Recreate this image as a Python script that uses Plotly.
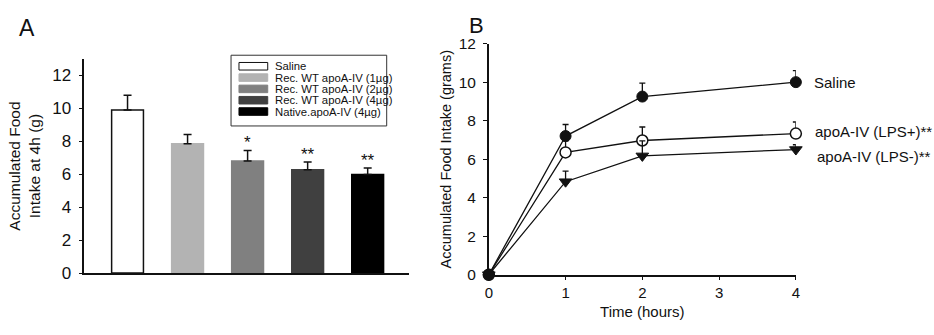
import plotly.graph_objects as go

# ---------------- Data ----------------
# Panel A
groups = ["Saline", "Rec. WT apoA-IV (1µg)", "Rec. WT apoA-IV (2µg)",
          "Rec. WT apoA-IV (4µg)", "Native.apoA-IV (4µg)"]
intake_4h = [9.9, 7.85, 6.8, 6.27, 5.98]
intake_4h_err = [0.9, 0.57, 0.65, 0.47, 0.4]
signif_a = ["", "", "*", "**", "**"]
bar_colors = ["#ffffff", "#b3b3b3", "#808080", "#404040", "#000000"]

# Panel B
time_h = [0, 1, 2, 4]
saline_b = [0, 7.2, 9.25, 10.0]
saline_b_err = [0, 0.6, 0.7, 0.6]
lps_pos_b = [0, 6.35, 6.97, 7.33]
lps_pos_b_err = [0, 0.6, 0.7, 0.6]
lps_neg_b = [0, 4.83, 6.17, 6.5]
lps_neg_b_err = [0, 0.55, 0.78, 0.25]
series_b_names = ["apoA-IV (LPS+)**", "apoA-IV (LPS-)**", "Saline"]

W, H = 934, 335
FONT = "Liberation Sans, Arial, sans-serif"
TXT = "#111111"


def px(x):
    return x / W


def py(y):
    return 1 - y / H


fig = go.Figure()

# ---------------- Panel A bars ----------------
for i, (g, v, e, c) in enumerate(zip(groups, intake_4h, intake_4h_err, bar_colors)):
    fig.add_trace(go.Bar(
        x=[i], y=[v], width=0.53, name=g, showlegend=False,
        marker=dict(color=c, line=dict(color="#111111" if i == 0 else c, width=1.5)),
        error_y=dict(type="data", symmetric=False, array=[e], arrayminus=[0],
                     color="#111111", thickness=1.5, width=4),
        xaxis="x", yaxis="y",
    ))

for i, s in enumerate(signif_a):
    if s:
        fig.add_annotation(x=i, y=intake_4h[i] + intake_4h_err[i], xref="x", yref="y",
                           text=s, showarrow=False, yanchor="bottom", yshift=-4,
                           font=dict(family=FONT, size=17, color=TXT))

# ---------------- Panel B lines ----------------
b_series = [
    (lps_pos_b, lps_pos_b_err, dict(symbol="circle", size=11, color="#ffffff",
                                    line=dict(color="#111111", width=1.5))),
    (lps_neg_b, lps_neg_b_err, dict(symbol="triangle-down", size=11, color="#111111",
                                    line=dict(color="#111111", width=1))),
    (saline_b, saline_b_err, dict(symbol="circle", size=11, color="#111111",
                                  line=dict(color="#111111", width=1))),
]
for name, (vals, errs, mk) in zip(series_b_names, b_series):
    fig.add_trace(go.Scatter(
        x=time_h, y=vals, name=name, mode="lines+markers", showlegend=False,
        line=dict(color="#111111", width=1.3), marker=mk, cliponaxis=False,
        error_y=dict(type="data", symmetric=False, array=errs, arrayminus=[0] * len(errs),
                     color="#111111", thickness=1.3, width=3),
        xaxis="x2", yaxis="y2",
    ))

label_shift = {"Saline": (16, 0), "apoA-IV (LPS+)**": (17, 2), "apoA-IV (LPS-)**": (19, -7)}
for name, (vals, _, _) in zip(series_b_names, b_series):
    xs, ys = label_shift[name]
    fig.add_annotation(x=time_h[-1], y=vals[-1], xref="x2", yref="y2", text=name,
                       showarrow=False, xanchor="left", yanchor="middle",
                       xshift=xs, yshift=ys, font=dict(family=FONT, size=15, color=TXT))

# ---------------- Manual legend for panel A ----------------
fig.add_shape(type="rect", xref="paper", yref="paper",
              x0=px(229), x1=px(386), y0=py(124), y1=py(49),
              line=dict(color="#333333", width=1), fillcolor="rgba(0,0,0,0)")
for i, (g, c) in enumerate(zip(groups, bar_colors)):
    yc = 60.7 + 12 * i
    fig.add_shape(type="rect", xref="paper", yref="paper",
                  x0=px(237), x1=px(266), y0=py(yc + 4), y1=py(yc - 4),
                  line=dict(color="#111111" if i == 0 else c, width=1), fillcolor=c)
    fig.add_annotation(x=px(272), y=py(yc), xref="paper", yref="paper", text=g,
                       showarrow=False, xanchor="left", yanchor="middle", borderpad=0,
                       font=dict(family=FONT, size=11.3, color=TXT))

# Panel letters
fig.add_annotation(x=px(13), y=py(20), xref="paper", yref="paper", text="A",
                   showarrow=False, xanchor="left", yanchor="middle",
                   font=dict(family=FONT, size=23, color=TXT))
fig.add_annotation(x=px(467), y=py(18), xref="paper", yref="paper", text="B",
                   showarrow=False, xanchor="left", yanchor="middle",
                   font=dict(family=FONT, size=22, color=TXT))

axis_common = dict(showline=True, linecolor="#111111", linewidth=1.5, showgrid=False,
                   zeroline=False, tickcolor="#111111", tickwidth=1.3)

fig.update_layout(
    width=W, height=H, margin=dict(l=0, r=0, t=0, b=0),
    paper_bgcolor="white", plot_bgcolor="white", barmode="overlay",
    showlegend=False,
    xaxis=dict(domain=[px(81), px(408)], range=[-0.72, 4.68], showticklabels=False,
               ticks="", anchor="y", **axis_common),
    yaxis=dict(domain=[py(280), py(53)], range=[0, 13], tickvals=[0, 2, 4, 6, 8, 10, 12],
               ticks="outside", ticklen=4, anchor="x", ticklabelstandoff=4,
               tickfont=dict(family=FONT, size=17, color=TXT),
               title=dict(text="Accumulated Food<br>Intake at 4h (g)", standoff=8,
                          font=dict(family=FONT, size=15.5, color=TXT)),
               **axis_common),
    xaxis2=dict(domain=[px(489), px(798.7)], range=[0, 4], tickvals=[0, 1, 2, 3, 4],
                ticks="outside", ticklen=4, anchor="y2",
                tickfont=dict(family=FONT, size=15, color=TXT),
                title=dict(text="Time (hours)", standoff=6,
                           font=dict(family=FONT, size=15, color=TXT)),
                **axis_common),
    yaxis2=dict(domain=[py(281.7), py(36.7)], range=[0, 12], tickvals=[0, 2, 4, 6, 8, 10, 12],
                ticks="outside", ticklen=4, anchor="x2", ticklabelstandoff=4,
                tickfont=dict(family=FONT, size=15.5, color=TXT),
                title=dict(text="Accumulated Food Intake (grams)", standoff=4,
                           font=dict(family=FONT, size=14.5, color=TXT)),
                **axis_common),
)

fig.write_html("out.html")
